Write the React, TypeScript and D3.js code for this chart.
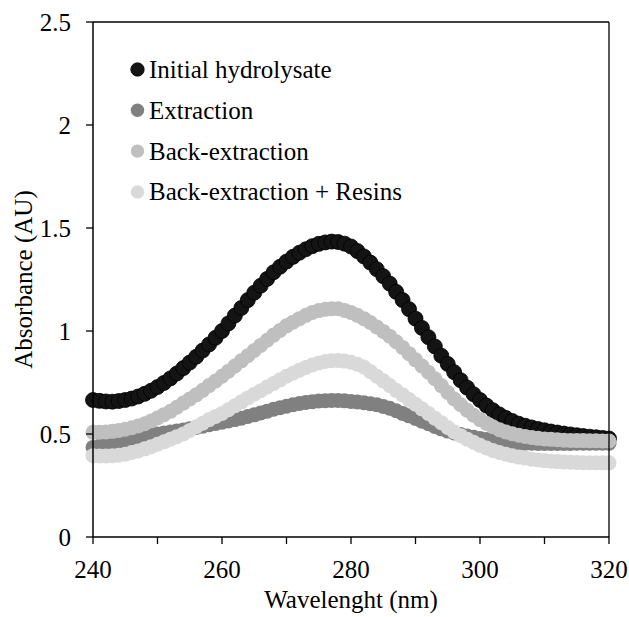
import React from "react";
import * as d3 from "d3";

const wavelengths = d3.range(240, 321, 1);

const initialHydrolysate = [
  0.665,0.661,0.658,0.657,0.66,0.665,0.672,0.682,0.695,0.71,
  0.728,0.748,0.77,0.794,0.82,0.847,0.875,0.905,0.935,0.967,
  1.0,1.037,1.075,1.112,1.15,1.186,1.22,1.253,1.285,1.312,
  1.337,1.36,1.38,1.397,1.412,1.423,1.43,1.434,1.432,1.424,
  1.41,1.388,1.362,1.332,1.3,1.266,1.23,1.19,1.15,1.106,
  1.06,1.015,0.97,0.925,0.88,0.84,0.8,0.761,0.725,0.693,
  0.665,0.638,0.615,0.595,0.578,0.563,0.55,0.54,0.532,0.524,
  0.518,0.512,0.507,0.502,0.498,0.494,0.49,0.487,0.484,0.481,
  0.478];

const extraction = [
  0.435,0.44,0.445,0.452,0.46,0.467,0.473,0.48,0.487,0.494,
  0.5,0.505,0.51,0.515,0.52,0.526,0.532,0.538,0.545,0.551,
  0.557,0.563,0.57,0.577,0.585,0.593,0.602,0.611,0.62,0.628,
  0.635,0.642,0.648,0.653,0.657,0.66,0.662,0.663,0.663,0.661,
  0.658,0.655,0.652,0.647,0.642,0.634,0.625,0.613,0.6,0.588,
  0.575,0.562,0.55,0.537,0.525,0.514,0.505,0.497,0.49,0.484,
  0.478,0.473,0.468,0.464,0.46,0.458,0.456,0.455,0.455,0.454,
  0.454,0.454,0.454,0.454,0.454,0.455,0.455,0.455,0.455,0.455,
  0.455];

const backExtraction = [
  0.508,0.509,0.51,0.513,0.517,0.523,0.53,0.539,0.55,0.563,
  0.578,0.594,0.61,0.63,0.65,0.67,0.69,0.712,0.735,0.757,
  0.78,0.805,0.83,0.855,0.88,0.905,0.93,0.955,0.98,1.003,
  1.025,1.043,1.06,1.076,1.09,1.099,1.105,1.108,1.108,1.1,
  1.09,1.076,1.06,1.041,1.02,0.998,0.975,0.948,0.92,0.89,
  0.86,0.83,0.8,0.768,0.735,0.702,0.67,0.642,0.615,0.591,
  0.57,0.551,0.535,0.521,0.51,0.501,0.494,0.488,0.483,0.479,
  0.476,0.474,0.472,0.47,0.469,0.468,0.468,0.467,0.467,0.466,
  0.466];

const backExtractionResins = [
  0.395,0.393,0.393,0.394,0.397,0.402,0.41,0.418,0.428,0.438,
  0.45,0.462,0.475,0.487,0.5,0.517,0.535,0.552,0.57,0.585,
  0.6,0.618,0.637,0.656,0.675,0.693,0.71,0.728,0.745,0.763,
  0.78,0.795,0.81,0.823,0.835,0.845,0.852,0.856,0.857,0.854,
  0.848,0.838,0.825,0.803,0.78,0.758,0.735,0.712,0.69,0.667,
  0.645,0.622,0.6,0.577,0.555,0.532,0.51,0.492,0.475,0.46,
  0.445,0.432,0.42,0.41,0.402,0.394,0.388,0.383,0.378,0.374,
  0.371,0.368,0.366,0.364,0.363,0.362,0.361,0.361,0.36,0.36,
  0.36];

const seriesNames = ["Initial hydrolysate","Extraction","Back-extraction","Back-extraction + Resins"];
const seriesValues = [initialHydrolysate, extraction, backExtraction, backExtractionResins];
const seriesFill = ["#141414","#808080","#bfbfbf","#d9d9d9"];
const seriesStroke = ["#000000","#808080","#bfbfbf","#d9d9d9"];

const xTicks = [240,260,280,300,320];
const xMinorTicks = [250,270,290,310];
const yTicks = [0,0.5,1,1.5,2,2.5];

const FONT = "'Liberation Serif', 'Times New Roman', Times, 'DejaVu Serif', serif";
const FS = 25;

export default function App() {
  const W = 629, H = 617;
  const left = 93, right = 609, top = 22, bottom = 537;
  const x = d3.scaleLinear().domain([240, 320]).range([left, right]);
  const y = d3.scaleLinear().domain([0, 2.5]).range([bottom, top]);
  const r = 7.5;

  return (
    <svg width={W} height={H} style={{ position: "absolute", left: 0, top: 0, background: "#fff" }}>
      <rect x={0} y={0} width={W} height={H} fill="#fff" />
      {seriesValues.map((vals, si) => (
        <g key={si}>
          {vals.map((v, i) => (
            <circle key={i} cx={x(wavelengths[i])} cy={y(v)} r={r}
              fill={seriesFill[si]} stroke={seriesStroke[si]} strokeWidth={si === 0 ? 0.8 : 0} />
          ))}
        </g>
      ))}
      <line x1={left} x2={right} y1={top} y2={top} stroke="#000" strokeWidth={1.3} />
      <line x1={right} x2={right} y1={top} y2={bottom} stroke="#000" strokeWidth={1.3} />
      <line x1={left} x2={left} y1={top} y2={bottom} stroke="#000" strokeWidth={1.5} />
      <line x1={left} x2={right} y1={bottom} y2={bottom} stroke="#000" strokeWidth={1.5} />
      {yTicks.map((t) => (
        <g key={t}>
          <line x1={left - 7} x2={left} y1={y(t)} y2={y(t)} stroke="#000" strokeWidth={1.3} />
          <text x={71} y={y(t)} dy="0.34em" textAnchor="end" style={{ fontFamily: FONT, fontSize: FS }}>{d3.format("")(t)}</text>
        </g>
      ))}
      {xTicks.map((t) => (
        <g key={t}>
          <line x1={x(t)} x2={x(t)} y1={bottom} y2={bottom + 7} stroke="#000" strokeWidth={1.3} />
          <text x={x(t)} y={578} textAnchor="middle" style={{ fontFamily: FONT, fontSize: FS }}>{t}</text>
        </g>
      ))}
      {xMinorTicks.map((t) => (
        <line key={t} x1={x(t)} x2={x(t)} y1={bottom} y2={bottom + 7} stroke="#000" strokeWidth={1.3} />
      ))}
      <text x={(left + right) / 2} y={608} textAnchor="middle" style={{ fontFamily: FONT, fontSize: FS }}>Wavelenght (nm)</text>
      <text transform={`translate(32, ${(top + bottom) / 2}) rotate(-90)`} textAnchor="middle" style={{ fontFamily: FONT, fontSize: FS }}>Absorbance (AU)</text>
      {seriesNames.map((name, i) => (
        <g key={name} transform={`translate(0, ${69.5 + i * 40.8})`}>
          <circle cx={137.5} cy={0} r={6.7} fill={seriesFill[i]} stroke={seriesStroke[i]} strokeWidth={i === 0 ? 0.8 : 0} />
          <text x={149} y={0} dy="0.34em" style={{ fontFamily: FONT, fontSize: FS }}>{name}</text>
        </g>
      ))}
    </svg>
  );
}
